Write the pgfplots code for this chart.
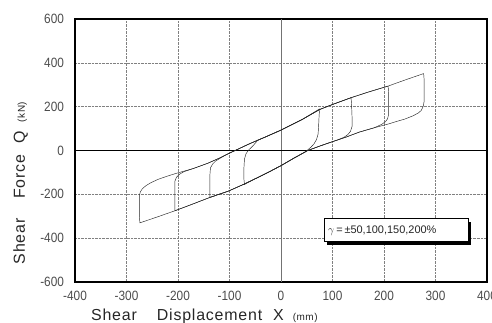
\documentclass[border=0pt]{standalone}
\usepackage{pgfplots}
\pgfplotsset{compat=1.18}
\usepackage{fontspec}
\setmainfont{Liberation Sans}
\newfontfamily\lblfont[LetterSpace=5]{Liberation Sans}
\newfontfamily\tickfont[FakeStretch=0.88]{Liberation Sans}
\usetikzlibrary{shadows}
\begin{document}
\begin{tikzpicture}
\begin{axis}[
  name=ax, scale only axis, width=412bp, height=263bp,
  xmin=-400, xmax=400, ymin=-600, ymax=600,
  xtick={-400,-300,...,400}, ytick={-600,-400,...,600},
  xticklabels={-400,-300,-200,-100,0,100,200,300,400},
  yticklabels={-600,-400,-200,0,200,400,600},
  grid=major, major grid style={gray, densely dotted, line width=0.5pt},
  major tick length=0pt,
  axis line style={line width=1.3pt},
  tick label style={font=\tickfont\fontsize{13.5}{15}\selectfont, text=black!70},
  xticklabel style={yshift=-5.5bp},
  yticklabel style={xshift=-7.5bp},
  xlabel={Shear\hspace{20bp}Displacement\hspace{11bp}X\hspace{9bp}{\fontsize{10}{12}\selectfont(mm)}},
  ylabel={Shear\hspace{20bp}Force\hspace{11bp}Q\hspace{9bp}{\fontsize{10}{12}\selectfont(kN)}},
  xlabel style={at={(axis description cs:0.314,-0.1445)}, anchor=base, font=\lblfont\fontsize{16}{18}\selectfont, text=black!85},
  ylabel style={at={(axis description cs:-0.1214,0.376)}, anchor=base, font=\lblfont\fontsize{16}{18}\selectfont, text=black!85},
]
\draw[black!55, line width=0.6pt] (axis cs:0,-600) -- (axis cs:0,600);
\draw[black, line width=0.8pt] (axis cs:-400,0) -- (axis cs:400,0);

% 200% loop
\addplot[black!85, line width=0.45pt] coordinates {
(277,351) (278,320) (278,260) (278,225) (276,200) (272,182) (266,170) (255,157) (240,143) (225,133) (210,122) (180,103) (152,84) (125,60) (97,38) (75,20) (52,0) (25,-35) (0,-69) (-25,-100) (-51,-130) (-75,-157) (-103,-186) (-138,-214) (-170,-243) (-206,-275) (-240,-303) (-274,-330)
(-275,-300) (-275,-240) (-275,-205) (-273,-188) (-269,-174) (-262,-160) (-252,-146) (-238,-131) (-222,-118) (-206,-106) (-188,-94) (-170,-82) (-142,-58) (-120,-35) (-100,-12) (-80,10) (-60,32) (-30,62) (0,93) (40,140) (75,187) (100,210) (136,241) (170,267) (208,294) (240,321) (277,351)
};
% 150% loop
\addplot[black!85, line width=0.45pt] coordinates {
(208,294) (209,260) (209,200) (209,165) (207,145) (203,132) (196,120) (187,110) (180,103) (152,84) (125,60) (97,38) (75,20) (52,0) (25,-35) (0,-69) (-25,-100) (-51,-130) (-75,-157) (-103,-186) (-138,-214) (-170,-243) (-206,-275)
(-206,-250) (-206,-180) (-206,-140) (-203,-122) (-197,-108) (-188,-96) (-170,-82) (-142,-58) (-120,-35) (-100,-12) (-80,10) (-60,32) (-30,62) (0,93) (40,140) (75,187) (100,210) (136,241) (170,267) (208,294)
};
% 100% loop
\addplot[black!85, line width=0.45pt] coordinates {
(136,241) (137,210) (138,150) (138,110) (135,88) (130,73) (122,60) (112,50) (97,38) (75,20) (52,0) (25,-35) (0,-69) (-25,-100) (-51,-130) (-75,-157) (-103,-186) (-138,-214)
(-138,-190) (-138,-110) (-137,-80) (-133,-62) (-127,-48) (-120,-38) (-110,-24) (-100,-12) (-80,10) (-60,32) (-30,62) (0,93) (40,140) (75,187) (100,210) (136,241)
};
% 50% loop
\addplot[black!85, line width=0.45pt] coordinates {
(75,190) (74,160) (73,110) (72,75) (69,50) (64,30) (58,15) (52,3) (45,-9) (25,-35) (0,-69) (-25,-100) (-51,-130) (-71,-155)
(-72,-130) (-72,-80) (-71,-40) (-68,-15) (-63,2) (-55,20) (-45,47) (-30,62) (0,93) (40,140) (75,190)
};

\node[draw=black, line width=0.6pt, fill=white, text width=136bp, inner sep=4bp, minimum height=23bp, align=left,
  font=\fontsize{11}{13}\selectfont, text=black!85,
  drop shadow={shadow xshift=3bp, shadow yshift=-3bp, fill=black, opacity=1}]
  at (axis cs:223.7,-364) {$\gamma$\,=\,±50,100,150,200\%};
\end{axis}
\pgfresetboundingbox
\path[use as bounding box] ([shift={(-75bp,-40bp)}]ax.south west) rectangle ([shift={(5bp,19bp)}]ax.north east);
\end{tikzpicture}
\end{document}
